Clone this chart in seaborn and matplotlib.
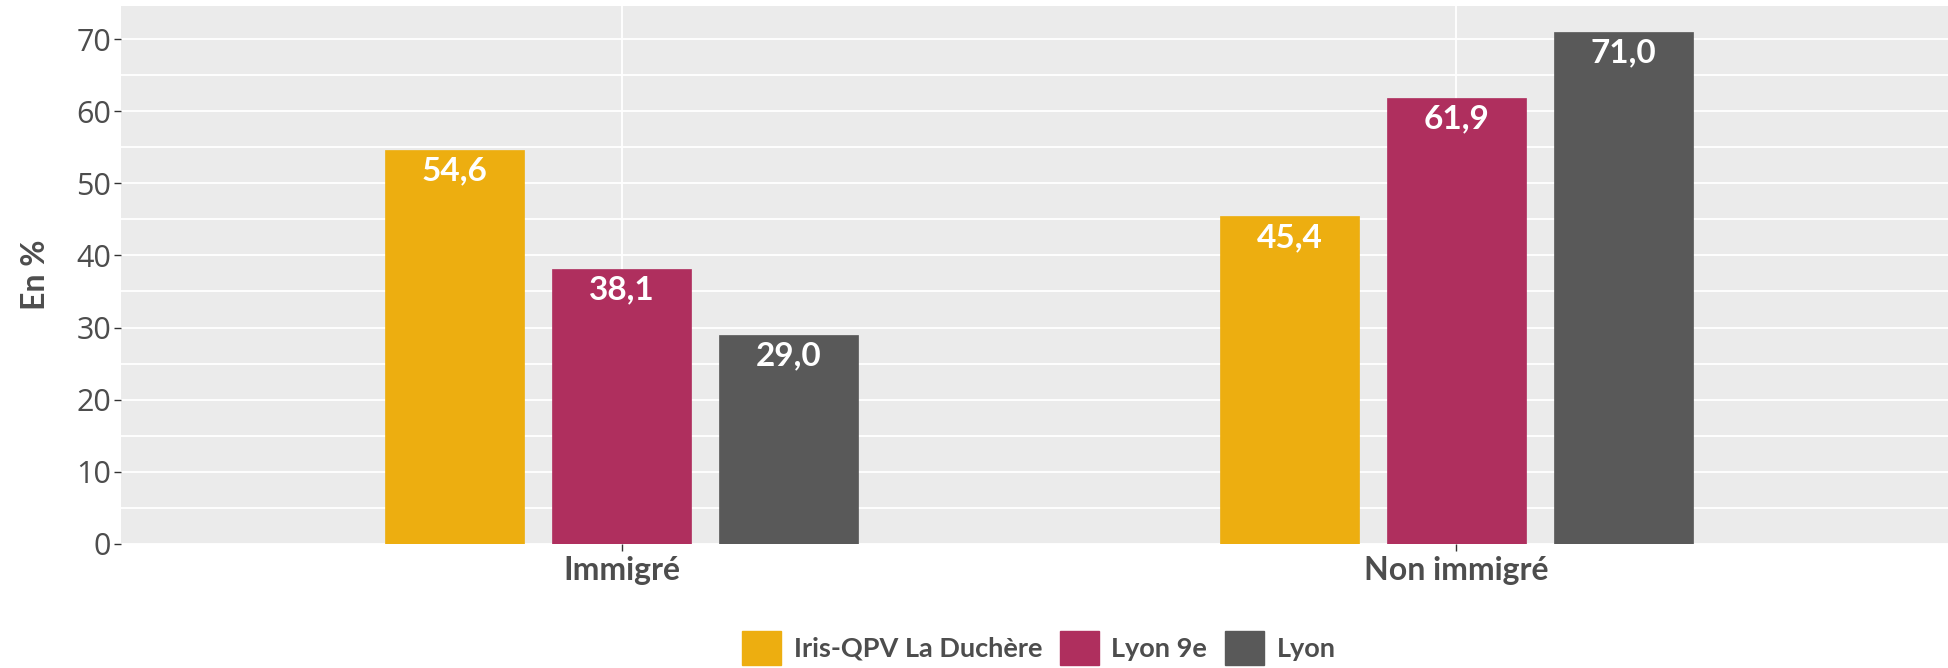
import matplotlib
matplotlib.use("Agg")
import matplotlib.pyplot as plt
from matplotlib.ticker import MultipleLocator
import pandas as pd
import seaborn as sns

# data
groupes = ['Immigré', 'Non immigré']
territoires = ['Iris-QPV La Duchère', 'Lyon 9e', 'Lyon']
valeurs = {
    'Iris-QPV La Duchère': [54.6, 45.4],
    'Lyon 9e': [38.1, 61.9],
    'Lyon': [29.0, 71.0],
}
couleurs = ['#EDAE10', '#AF2F5E', '#595959']

rows = []
for t in territoires:
    for g, v in zip(groupes, valeurs[t]):
        rows.append({'groupe': g, 'territoire': t, 'valeur': v})
df = pd.DataFrame(rows)

sns.set_style('darkgrid', {'axes.facecolor': '#EBEBEB', 'grid.color': 'white'})
plt.rcParams['font.family'] = ['Lato', 'DejaVu Sans']

fig = plt.figure(figsize=(19.49, 6.68), dpi=100)
ax = fig.add_axes([0.062, 0.186, 0.938, 0.805])

sns.barplot(data=df, x='groupe', y='valeur', hue='territoire', order=groupes,
            hue_order=territoires, palette=couleurs, width=0.6, gap=0.17,
            saturation=1, linewidth=0, ax=ax, legend=True)

for cont, t in zip(ax.containers, territoires):
    for bar, v in zip(cont, valeurs[t]):
        bar.set_edgecolor(bar.get_facecolor())
        bar.set_linewidth(0.5)
        ax.annotate(f'{v:.1f}'.replace('.', ','),
                    (bar.get_x() + bar.get_width() / 2, bar.get_height()),
                    xytext=(0, -15), textcoords='offset points',
                    ha='center', va='center', color='white',
                    fontsize=24, fontweight='bold')

ax.set_xlim(-0.6, 1.59)
ax.set_ylim(0, 74.6)
ax.yaxis.set_major_locator(MultipleLocator(10))
ax.yaxis.set_minor_locator(MultipleLocator(5))
ax.grid(which='major', color='white', linewidth=1.3)
ax.grid(which='minor', axis='y', color='white', linewidth=1.3)
ax.set_axisbelow(True)
for s in ax.spines.values():
    s.set_visible(False)

ax.tick_params(axis='y', which='major', length=5, width=1, color='#333333',
               labelsize=22, labelcolor='#4D4D4D', pad=2, left=True)
ax.tick_params(axis='y', which='minor', length=0)
ax.tick_params(axis='x', length=5, width=1, color='#333333', pad=4, bottom=True)
for lab in ax.get_yticklabels():
    lab.set_family(['Open Sans', 'DejaVu Sans'])
for lab in ax.get_xticklabels():
    lab.set_fontsize(23)
    lab.set_fontweight('bold')
    lab.set_color('#4D4D4D')

ax.set_xlabel('')
ax.set_ylabel('En %', fontsize=23, fontweight='bold', color='#4D4D4D', labelpad=19)

ax.get_legend().remove()
handles = [plt.Rectangle((0, 0), 1, 1, color=c) for c in couleurs]
fig.legend(handles, territoires, loc='center', bbox_to_anchor=(0.533, 0.03),
           ncol=3, frameon=False, handlelength=1.45, handleheight=1.55,
           handletextpad=0.46, columnspacing=0.65, labelcolor='#4D4D4D',
           prop={'weight': 'bold', 'size': 19.5})

fig.savefig('out.png', dpi=100)
